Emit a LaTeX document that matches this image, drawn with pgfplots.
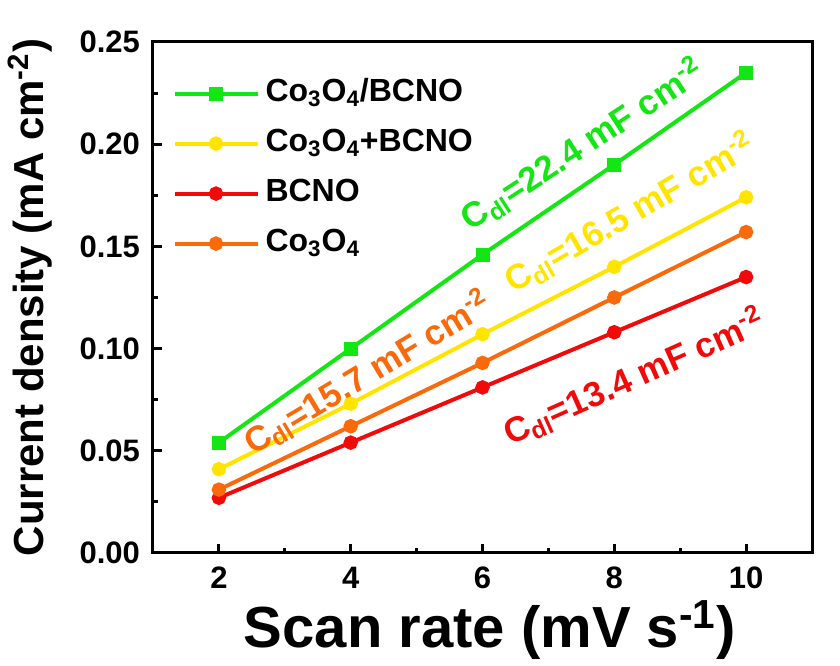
\documentclass[border=0pt]{standalone}
\usepackage{fontspec}
\setmainfont{Liberation Sans}
\usepackage{pgfplots}
\pgfplotsset{compat=1.18}

\definecolor{cgreen}{RGB}{20,230,20}
\definecolor{cyellow}{RGB}{255,228,0}
\definecolor{cred}{RGB}{240,10,10}
\definecolor{corange}{RGB}{250,105,10}

\newcommand{\cdl}[1]{C\textsubscript{dl}=#1 mF cm\textsuperscript{-2}}
\newcommand{\coo}{Co\textsubscript{3}O\textsubscript{4}}

\begin{document}
\begin{tikzpicture}
\begin{axis}[
  name=main,
  scale only axis,
  width=329.5pt, height=255.5pt,
  xmin=1, xmax=11, ymin=0, ymax=0.25,
  xtick={2,4,6,8,10},
  ytick={0,0.05,0.10,0.15,0.20,0.25},
  minor x tick num=1, minor y tick num=1,
  xtick pos=left, ytick pos=left,
  tick align=inside,
  major tick length=4.5pt, minor tick length=2.5pt,
  axis line style={line width=1.5pt},
  every tick/.style={black, line width=1.5pt},
  yticklabel style={/pgf/number format/fixed, /pgf/number format/fixed zerofill,
    /pgf/number format/precision=2, xshift=-3pt},
  /pgf/number format/assume math mode=true,
  ticklabel style={font=\fontsize{15.5}{18}\selectfont\bfseries},
  xticklabel style={yshift=-3.5pt},
  xlabel={Scan rate (mV s\textsuperscript{-1})},
  ylabel={Current density (mA cm\textsuperscript{-2})},
  xlabel style={at={(axis description cs:0.511,-0.184)}, anchor=base,
    font=\fontsize{29}{34}\selectfont\bfseries},
  ylabel style={at={(axis description cs:-0.1654,0.5)}, anchor=base,
    font=\fontsize{21}{25}\selectfont\bfseries},
  legend cell align=left,
  legend style={at={(axis description cs:0.029,0.935)}, anchor=north west,
    draw=none, fill=none, inner sep=0pt, row sep=7pt, column sep=2pt,
    font=\fontsize{16}{19}\selectfont\bfseries,
    nodes={inner sep=1pt, text height=12pt, text depth=4pt}},
  legend image code/.code={\draw[mark repeat=2,mark phase=2]
    plot coordinates {(0pt,0pt)(20.75pt,0pt)(41.5pt,0pt)};},
  every axis plot/.append style={line width=2pt},
]
\addplot[cgreen, mark=square*, mark size=2.5pt, mark options={solid}]
  coordinates {(2,0.054) (4,0.100) (6,0.146) (8,0.190) (10,0.235)};
\addlegendentry{\coo/BCNO}
\addplot[cyellow, mark=*, mark size=2.6pt, mark options={solid}]
  coordinates {(2,0.041) (4,0.073) (6,0.107) (8,0.140) (10,0.174)};
\addlegendentry{\coo+BCNO}
\addplot[cred, mark=*, mark size=2.6pt, mark options={solid}]
  coordinates {(2,0.027) (4,0.054) (6,0.081) (8,0.108) (10,0.135)};
\addlegendentry{BCNO}
\addplot[corange, mark=*, mark size=2.6pt, mark options={solid}]
  coordinates {(2,0.031) (4,0.062) (6,0.093) (8,0.125) (10,0.157)};
\addlegendentry{\coo}

% double-layer capacitance labels
\node[rotate=33, text=cgreen, inner sep=0pt, font=\fontsize{17.5}{20}\selectfont\bfseries]
  at (axis cs:7.52,0.1996) {\cdl{22.4}};
\node[rotate=30, text=cyellow, inner sep=0pt, font=\fontsize{17.5}{20}\selectfont\bfseries]
  at (axis cs:8.24,0.1663) {\cdl{16.5}};
\node[rotate=31, text=corange, inner sep=0pt, font=\fontsize{17.5}{20}\selectfont\bfseries]
  at (axis cs:4.26,0.088) {\cdl{15.7}};
\node[rotate=24, text=cred, inner sep=0pt, font=\fontsize{17.5}{20}\selectfont\bfseries]
  at (axis cs:8.30,0.0861) {\cdl{13.4}};
\end{axis}
\path ([shift={(-76.5pt,-56.5pt)}]main.south west) rectangle ([shift={(14pt,21pt)}]main.north east);
\end{tikzpicture}
\end{document}
